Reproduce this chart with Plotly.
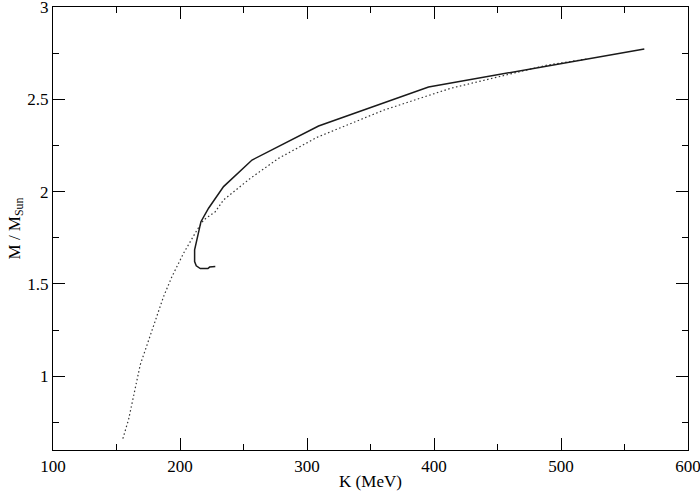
import plotly.graph_objects as go

# Solid curve: K (MeV) vs M / M_Sun
solid_k = [565.6, 395.7, 309.1, 256.7, 234.3, 222.5, 216.5, 213.4, 211.5, 211.5,
           212.8, 216.0, 222.0, 223.3, 227.8]
solid_m = [2.773, 2.567, 2.355, 2.171, 2.027, 1.910, 1.837, 1.747, 1.684, 1.621,
           1.598, 1.583, 1.583, 1.591, 1.594]

# Dotted curve
dot_k = [520.0, 489.0, 412.8, 360.3, 307.9, 277.6, 255.4, 234.3, 227.8, 218.6,
         213.4, 202.8, 193.7, 187.1, 168.7, 166.1, 163.5, 159.5, 154.8]
dot_m = [2.718, 2.685, 2.559, 2.441, 2.294, 2.180, 2.072, 1.955, 1.891, 1.846,
         1.792, 1.666, 1.540, 1.432, 1.062, 0.981, 0.891, 0.765, 0.657]

x_ticks = [100, 200, 300, 400, 500, 600]
y_ticks = [1, 1.5, 2, 2.5, 3]
y_tick_text = ["1", "1.5", "2", "2.5", "3"]

FONT = "Liberation Serif, Times New Roman, serif"

fig = go.Figure()
fig.add_trace(go.Scatter(x=dot_k, y=dot_m, mode="lines",
                         line=dict(color="#333333", width=1.2, dash="1.5px,2.5px"),
                         showlegend=False, hoverinfo="skip"))
fig.add_trace(go.Scatter(x=solid_k, y=solid_m, mode="lines",
                         line=dict(color="#1a1a1a", width=1.5),
                         showlegend=False, hoverinfo="skip"))

axis_common = dict(
    showgrid=False, zeroline=False, showline=True, linecolor="black", linewidth=1.3,
    mirror="ticks", ticks="inside", ticklen=12, tickwidth=1.2, tickcolor="black",
    tickfont=dict(family=FONT, size=17, color="black"),
    automargin=False, ticklabeloverflow="allow",
)

fig.update_xaxes(range=[100, 600], tickmode="array", tickvals=x_ticks,
                 ticktext=[str(v) for v in x_ticks],
                 minor=dict(dtick=50, tick0=100, ticks="inside", ticklen=6,
                            tickwidth=1.2, tickcolor="black"),
                 title=dict(text="K (MeV)", font=dict(family=FONT, size=17, color="black"),
                            standoff=0),
                 **axis_common)
fig.update_yaxes(range=[0.6, 3], tickmode="array", tickvals=y_ticks,
                 ticktext=y_tick_text,
                 minor=dict(dtick=0.25, tick0=0.5, ticks="inside", ticklen=6,
                            tickwidth=1.2, tickcolor="black"),
                 title=dict(text="M / M<sub>Sun</sub>",
                            font=dict(family=FONT, size=17, color="black"),
                            standoff=2),
                 **axis_common)

fig.update_layout(
    width=700, height=491,
    margin=dict(l=53, r=12, t=7, b=41),
    paper_bgcolor="white", plot_bgcolor="white",
    font=dict(family=FONT, size=17, color="black"),
)

fig.write_html("out.html", config={"displayModeBar": False},
               post_script="document.body.style.margin='0';document.body.style.padding='0';")
